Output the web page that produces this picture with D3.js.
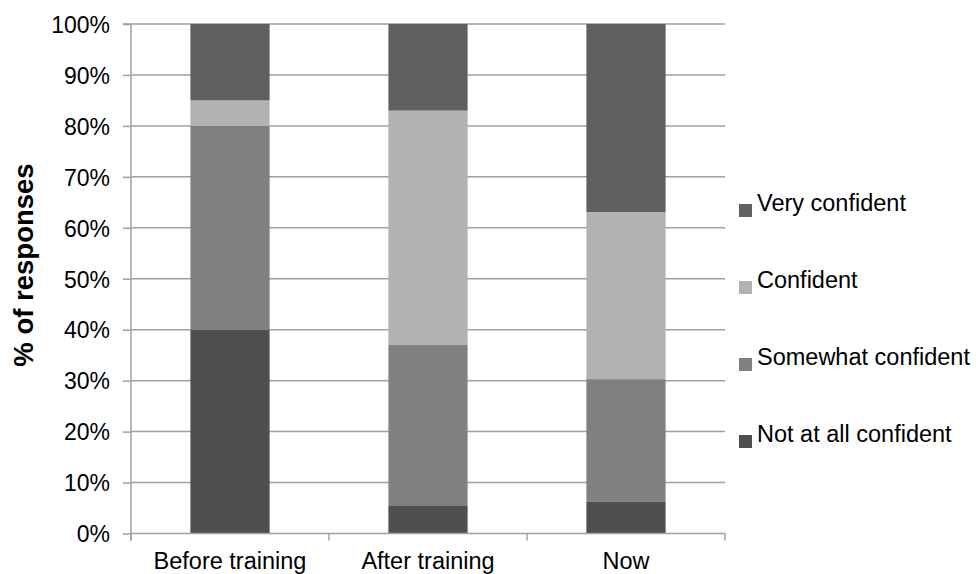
<!DOCTYPE html>
<html>
<head>
<meta charset="utf-8">
<script src="https://cdn.jsdelivr.net/npm/d3@7"></script>
<style>
  html, body { margin: 0; padding: 0; background: #fff; }
  svg { display: block; font-family: "Liberation Sans", Arial, sans-serif; }
</style>
</head>
<body>
<svg id="chart" width="976" height="574"></svg>
<script>
const categories = ["Before training", "After training", "Now"];
const seriesNames = ["Not at all confident", "Somewhat confident", "Confident", "Very confident"];
const notAtAll   = [40.0, 5.4, 6.2];
const somewhat   = [40.0, 31.6, 24.1];
const confident  = [5.0, 46.0, 32.8];
const veryConf   = [15.0, 17.0, 36.9];
const yTicks = [0, 10, 20, 30, 40, 50, 60, 70, 80, 90, 100];
const colors = ["#4f4f4f", "#808080", "#b2b2b2", "#606060"];

const rows = categories.map((c, i) => ({
  cat: c,
  "Not at all confident": notAtAll[i],
  "Somewhat confident": somewhat[i],
  "Confident": confident[i],
  "Very confident": veryConf[i]
}));

const svg = d3.select("#chart");
const x0 = 131, x1 = 725, yTop = 24, yBot = 533.5;
const gridColor = "#a0a0a0";

const x = d3.scaleBand().domain(categories).range([x0, x1]).paddingInner(0.6).paddingOuter(0.3);
const y = d3.scaleLinear().domain([0, 100]).range([yBot, yTop]);
const color = d3.scaleOrdinal().domain(seriesNames).range(colors);

// gridlines
svg.append("g").selectAll("line").data(yTicks.filter(t => t > 0)).join("line")
  .attr("x1", x0).attr("x2", x1)
  .attr("y1", d => y(d)).attr("y2", d => y(d))
  .attr("stroke", gridColor).attr("stroke-width", 1.5);

// stacked bars
const stack = d3.stack().keys(seriesNames)(rows);
svg.append("g").selectAll("g").data(stack).join("g")
  .attr("fill", d => color(d.key))
  .selectAll("rect").data(d => d).join("rect")
  .attr("x", d => x(d.data.cat))
  .attr("width", x.bandwidth())
  .attr("y", d => y(d[1]))
  .attr("height", d => y(d[0]) - y(d[1]));

// y axis
const yAxis = d3.axisLeft(y).tickValues(yTicks).tickFormat(d => d + "%").tickSize(8).tickPadding(13);
const gy = svg.append("g").attr("transform", `translate(${x0},0)`).call(yAxis);
gy.select(".domain").attr("stroke", gridColor).attr("stroke-width", 1.5).attr("d", `M-8,${yTop}H0V${yBot + 7}`);
gy.selectAll(".tick line").attr("stroke", gridColor).attr("stroke-width", 1.5);
gy.selectAll(".tick text").attr("fill", "#000").style("font-size", "23px").attr("dy", "0.36em");

// x axis
const xAxis = d3.axisBottom(x).tickSize(0).tickPadding(19);
const gx = svg.append("g").attr("transform", `translate(0,${yBot})`).call(xAxis);
gx.select(".domain").attr("stroke", gridColor).attr("stroke-width", 1.5).attr("d", `M${x0},0H${x1}`);
gx.selectAll(".tick text").attr("fill", "#000").style("font-size", "23.5px").attr("dy", "0.71em");
// category boundary ticks
const step = x.step();
const boundaryX = [0, 1, 2, 3].map(i => x0 + step * x.paddingOuter() - step * x.paddingInner() / 2 + i * step);
gx.append("g").selectAll("line").data(boundaryX).join("line")
  .attr("x1", d => d).attr("x2", d => d).attr("y1", 0).attr("y2", 7)
  .attr("stroke", gridColor).attr("stroke-width", 1.5);

// y title
svg.append("text")
  .attr("transform", "translate(33,265) rotate(-90)")
  .attr("text-anchor", "middle")
  .style("font-size", "27.5px").style("font-weight", "bold")
  .text("% of responses");

// legend (top to bottom: reversed series)
const legendItems = seriesNames.slice().reverse();
const lg = svg.append("g").selectAll("g").data(legendItems).join("g")
  .attr("transform", (d, i) => `translate(739,${211 + i * 77})`);
lg.append("rect").attr("x", 0).attr("y", -7).attr("width", 13).attr("height", 13)
  .attr("fill", d => color(d));
lg.append("text").attr("x", 18).attr("y", 0).style("font-size", "23.5px").text(d => d);
</script>
</body>
</html>
